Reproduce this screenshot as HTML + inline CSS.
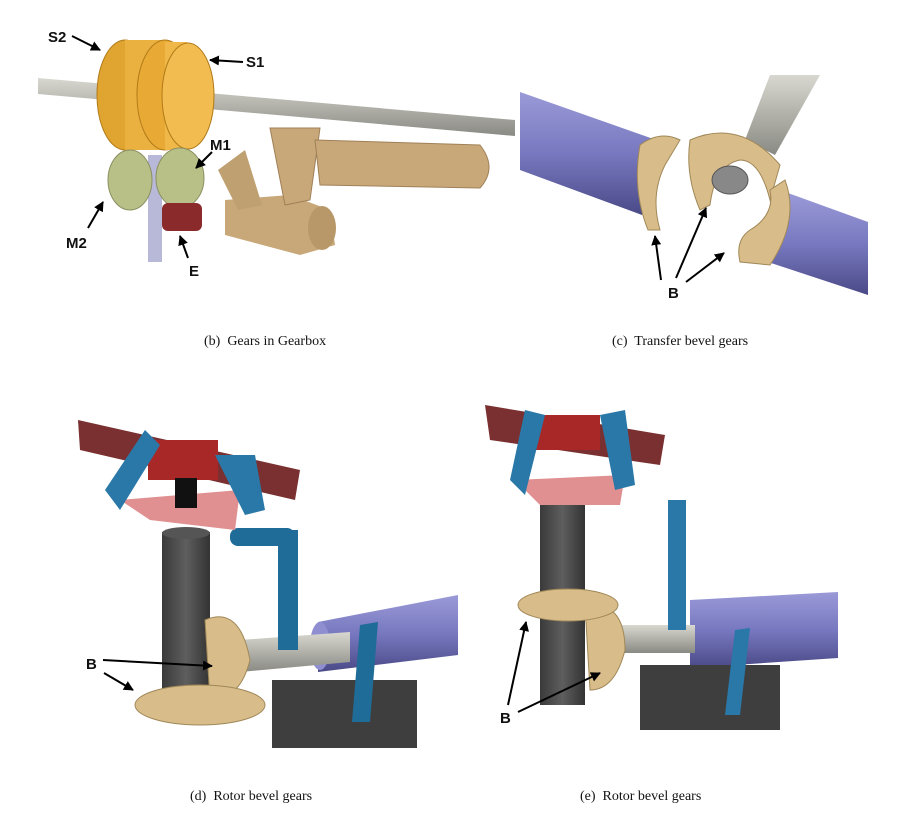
<!DOCTYPE html>
<html><head><meta charset="utf-8"><style>
html,body{margin:0;padding:0;background:#fff;}
svg{display:block;}
.cap{font-family:"Liberation Serif",serif;font-size:14px;fill:#111;white-space:pre;}
.lab{font-family:"Liberation Sans",sans-serif;font-size:15px;font-weight:bold;fill:#111;}
</style></head><body>
<svg width="916" height="826" viewBox="0 0 916 826" xmlns="http://www.w3.org/2000/svg" xml:space="preserve">
<defs>
<marker id="ah" markerWidth="10" markerHeight="10" refX="9" refY="5" orient="auto" markerUnits="userSpaceOnUse"><path d="M0,0 L10,5 L0,10 z" fill="#000"/></marker>
<linearGradient id="gray" x1="0" y1="0" x2="0" y2="1"><stop offset="0" stop-color="#d8d8d0"/><stop offset="1" stop-color="#8a8a84"/></linearGradient>
<linearGradient id="purp" x1="0" y1="0" x2="0" y2="1"><stop offset="0" stop-color="#9a9ad8"/><stop offset="0.5" stop-color="#7878c0"/><stop offset="1" stop-color="#4a4a88"/></linearGradient>
<linearGradient id="col" x1="0" y1="0" x2="1" y2="0"><stop offset="0" stop-color="#3a3a3a"/><stop offset="0.5" stop-color="#5e5e5e"/><stop offset="1" stop-color="#333"/></linearGradient>
</defs>

<!-- Panel b -->
<polygon points="38,78 515,120 515,136 38,94" fill="url(#gray)"/>
<ellipse cx="125" cy="95" rx="28" ry="55" fill="#e0a430" stroke="#b07a18"/>
<rect x="125" y="40" width="40" height="110" fill="#eab040"/>
<ellipse cx="165" cy="95" rx="28" ry="55" fill="#e8aa34" stroke="#b07a18"/>
<rect x="165" y="42" width="22" height="108" fill="#f0b848"/>
<ellipse cx="188" cy="96" rx="26" ry="53" fill="#f2bc50" stroke="#b07a18"/>
<rect x="148" y="155" width="14" height="107" fill="#b8b8d8"/>
<ellipse cx="130" cy="180" rx="22" ry="30" fill="#b8c088" stroke="#8a9060"/>
<ellipse cx="180" cy="178" rx="24" ry="30" fill="#b8c088" stroke="#8a9060"/>
<path d="M225,200 L290,195 L330,210 L335,245 L300,255 L225,235 Z" fill="#c8a878"/>
<path d="M270,128 L320,128 L310,200 L285,205 Z" fill="#c8a878" stroke="#a08058"/>
<path d="M315,140 L480,145 Q498,168 480,188 L320,185 Z" fill="#c8a878" stroke="#a08058"/>
<path d="M218,170 L245,150 L262,205 L238,210 Z" fill="#bfa070"/>
<ellipse cx="322" cy="228" rx="14" ry="22" fill="#b89868"/>
<rect x="162" y="203" width="40" height="28" rx="6" fill="#8a2a2a"/>
<text class="lab" x="48" y="42">S2</text>
<line x1="72" y1="36" x2="100" y2="50" stroke="#000" stroke-width="2" marker-end="url(#ah)"/>
<text class="lab" x="246" y="67">S1</text>
<line x1="243" y1="62" x2="210" y2="60" stroke="#000" stroke-width="2" marker-end="url(#ah)"/>
<text class="lab" x="210" y="150">M1</text>
<line x1="212" y1="152" x2="196" y2="168" stroke="#000" stroke-width="2" marker-end="url(#ah)"/>
<text class="lab" x="66" y="248">M2</text>
<line x1="88" y1="228" x2="103" y2="202" stroke="#000" stroke-width="2" marker-end="url(#ah)"/>
<text class="lab" x="189" y="276">E</text>
<line x1="188" y1="258" x2="180" y2="236" stroke="#000" stroke-width="2" marker-end="url(#ah)"/>
<text class="cap" x="204" y="345">(b)  Gears in Gearbox</text>

<!-- Panel c -->
<polygon points="520,92 662,142 642,215 520,170" fill="url(#purp)"/>
<polygon points="788,193 868,222 868,295 768,262" fill="url(#purp)"/>
<polygon points="745,140 770,75 820,75 775,155" fill="url(#gray)"/>
<path d="M640,145 Q660,130 680,140 L665,165 Q650,195 660,230 L648,230 Q632,190 640,145 Z" fill="#d8bc8a" stroke="#a08858"/>
<path d="M690,140 Q740,118 780,165 L770,200 Q760,160 740,160 Q715,165 710,205 L700,210 Q685,175 690,140 Z" fill="#d8bc8a" stroke="#a08858"/>
<path d="M785,180 Q800,220 770,265 L740,262 Q735,240 750,230 Q775,215 770,190 Z" fill="#d8bc8a" stroke="#a08858"/>
<ellipse cx="730" cy="180" rx="18" ry="14" fill="#888" stroke="#555"/>
<text class="lab" x="668" y="298">B</text>
<line x1="661" y1="280" x2="655" y2="236" stroke="#000" stroke-width="2" marker-end="url(#ah)"/>
<line x1="676" y1="278" x2="706" y2="208" stroke="#000" stroke-width="2" marker-end="url(#ah)"/>
<line x1="686" y1="282" x2="724" y2="253" stroke="#000" stroke-width="2" marker-end="url(#ah)"/>
<text class="cap" x="612" y="345">(c)  Transfer bevel gears</text>

<!-- Panel d -->
<polygon points="318,622 458,595 458,655 318,672" fill="url(#purp)"/>
<ellipse cx="320" cy="646" rx="10" ry="24" fill="#8e8ed0"/>
<polygon points="240,640 350,632 350,662 240,672" fill="url(#gray)"/>
<rect x="272" y="680" width="145" height="68" fill="#3e3e3e"/>
<rect x="162" y="532" width="48" height="180" fill="url(#col)"/>
<ellipse cx="186" cy="533" rx="24" ry="6" fill="#555"/>
<path d="M205,620 Q240,605 250,660 Q240,700 210,700 Z" fill="#d8bc8a" stroke="#a08858"/>
<ellipse cx="200" cy="705" rx="65" ry="20" fill="#d8bc8a" stroke="#a08858"/>
<rect x="278" y="530" width="20" height="120" fill="#1f6c98"/>
<rect x="230" y="528" width="65" height="18" rx="8" fill="#1f6c98"/>
<path d="M360,625 L378,622 L370,722 L352,722 Z" fill="#1f6c98"/>
<polygon points="120,500 240,490 235,530 150,520" fill="#e09090"/>
<path d="M78,420 L300,470 L295,500 L80,450 Z" fill="#7a3030"/>
<rect x="148" y="440" width="70" height="40" fill="#a82828"/>
<rect x="175" y="478" width="22" height="30" fill="#111"/>
<polygon points="105,490 145,430 160,445 120,510" fill="#2a78a8"/>
<polygon points="215,455 255,455 265,510 245,515" fill="#2a78a8"/>
<text class="lab" x="86" y="669">B</text>
<line x1="103" y1="660" x2="212" y2="666" stroke="#000" stroke-width="2" marker-end="url(#ah)"/>
<line x1="104" y1="673" x2="133" y2="690" stroke="#000" stroke-width="2" marker-end="url(#ah)"/>
<text class="cap" x="190" y="800">(d)  Rotor bevel gears</text>

<!-- Panel e -->
<polygon points="690,600 838,592 838,658 690,668" fill="url(#purp)"/>
<rect x="615" y="625" width="80" height="28" fill="url(#gray)"/>
<rect x="640" y="665" width="140" height="65" fill="#3e3e3e"/>
<rect x="540" y="505" width="45" height="200" fill="url(#col)"/>
<path d="M585,605 Q625,600 625,650 Q615,690 590,690 Z" fill="#d8bc8a" stroke="#a08858"/>
<ellipse cx="568" cy="605" rx="50" ry="16" fill="#d8bc8a" stroke="#a08858"/>
<rect x="668" y="500" width="18" height="130" fill="#2a78a8"/>
<path d="M735,630 L750,628 L740,715 L725,715 Z" fill="#2a78a8"/>
<polygon points="515,480 625,475 620,505 540,505" fill="#e09090"/>
<path d="M485,405 L665,435 L660,465 L490,440 Z" fill="#7a3030"/>
<rect x="535" y="415" width="65" height="35" fill="#a82828"/>
<polygon points="510,480 525,410 545,415 525,495" fill="#2a78a8"/>
<polygon points="600,415 625,410 635,485 615,490" fill="#2a78a8"/>
<text class="lab" x="500" y="723">B</text>
<line x1="508" y1="705" x2="526" y2="622" stroke="#000" stroke-width="2" marker-end="url(#ah)"/>
<line x1="518" y1="712" x2="600" y2="673" stroke="#000" stroke-width="2" marker-end="url(#ah)"/>
<text class="cap" x="580" y="800">(e)  Rotor bevel gears</text>
</svg>
</body></html>
